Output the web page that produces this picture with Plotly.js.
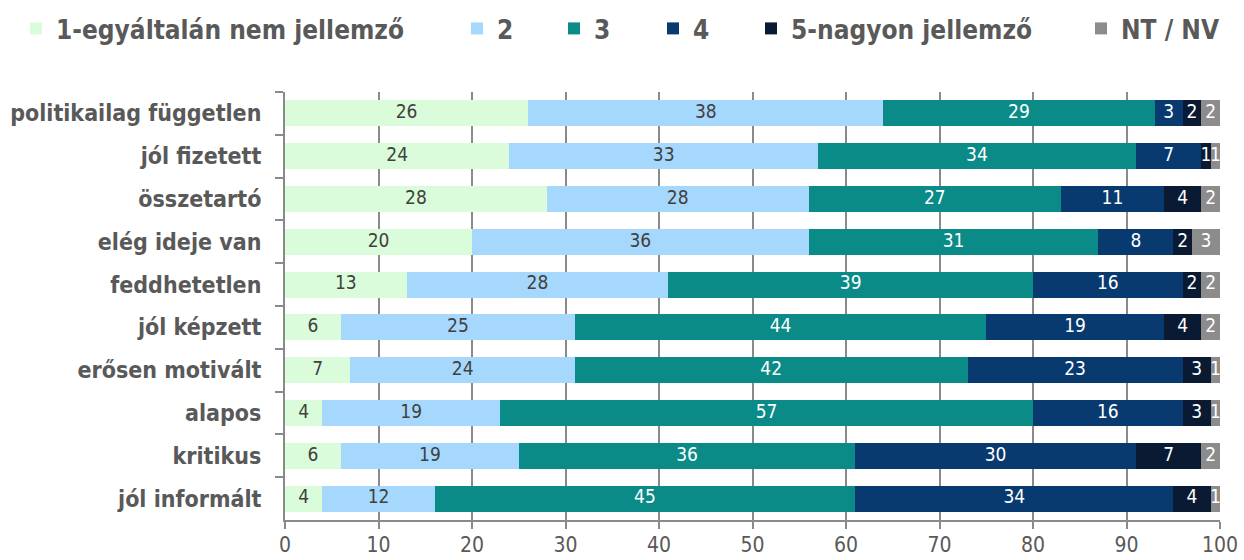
<!DOCTYPE html>
<html>
<head>
<meta charset="utf-8">
<script src="https://cdn.plot.ly/plotly-3.0.1.min.js"></script>
<style>html,body{margin:0;padding:0;background:#fff;}#chart{width:1244px;height:560px;}</style>
</head>
<body>
<div id="chart"></div>
<script>
const categories = ["politikailag független","jól fizetett","összetartó","elég ideje van","feddhetetlen","jól képzett","erősen motivált","alapos","kritikus","jól informált"];
const seriesNames = ["1-egyáltalán nem jellemző","2","3","4","5-nagyon jellemző","NT / NV"];
const s1 = [26,24,28,20,13,6,7,4,6,4];
const s2 = [38,33,28,36,28,25,24,19,19,12];
const s3 = [29,34,27,31,39,44,42,57,36,45];
const s4 = [3,7,11,8,16,19,23,16,30,34];
const s5 = [2,1,4,2,2,4,3,3,7,4];
const s6 = [2,1,2,3,2,2,1,1,2,1];
const xTicks = [0,10,20,30,40,50,60,70,80,90,100];

const series = [s1,s2,s3,s4,s5,s6];
const colors = ["#dafcda","#a6d8fd","#0a8b88","#083a70","#0a1a33","#8c8c8c"];
const textColors = ["#404040","#404040","#ffffff","#ffffff","#ffffff","#ffffff"];
const legendXpx = [16, 457, 554, 653, 751, 1081];
const W = 1244, H = 560;
const FONT = "DejaVu Sans Condensed, DejaVu Sans, sans-serif";

const traces = [];
const layout = {
  width: W, height: H,
  margin: {l: 285, r: 24, t: 92, b: 40},
  paper_bgcolor: "#fff", plot_bgcolor: "#fff",
  barmode: "stack",
  bargap: 0.39,
  showlegend: true,
  xaxis: {
    range: [0, 100], tickvals: xTicks, ticktext: xTicks.map(String),
    showgrid: true, gridcolor: "#8a8a8a", gridwidth: 2,
    showline: true, linecolor: "#8a8a8a", linewidth: 2,
    ticks: "outside", ticklen: 7, tickwidth: 2, tickcolor: "#8a8a8a",
    tickfont: {family: FONT, size: 21, color: "#595959"},
    ticklabelstandoff: -2,
    zeroline: false, fixedrange: true
  },
  yaxis: {
    type: "category", autorange: "reversed",
    categoryorder: "array", categoryarray: categories,
    showline: true, linecolor: "#8a8a8a", linewidth: 2,
    ticks: "outside", ticklen: 8, tickwidth: 2, tickcolor: "#8a8a8a",
    tickson: "boundaries",
    tickfont: {family: FONT, size: 23, color: "#595959", weight: "bold"},
    ticklabelstandoff: 17,
    showgrid: false, zeroline: false, fixedrange: true
  }
};

series.forEach((vals, i) => {
  const legName = i === 0 ? "legend" : "legend" + (i + 1);
  traces.push({
    type: "bar", orientation: "h", name: seriesNames[i],
    x: vals, y: categories,
    marker: {color: colors[i], line: {width: 0}},
    hoverinfo: "skip",
    legend: legName
  });
  layout[legName] = {
    x: legendXpx[i] / W, y: 1 - 28.5 / H, xref: "container", yref: "container",
    xanchor: "left", yanchor: "middle",
    orientation: "h", bgcolor: "rgba(0,0,0,0)", borderwidth: 0,
    itemwidth: 30,
    font: {family: FONT, size: 26, color: "#595959", weight: "bold"}
  };
});

// value labels at segment centers (computed from the data arrays)
series.forEach((vals, i) => {
  const mids = vals.map((v, k) => {
    let base = 0;
    for (let j = 0; j < i; j++) base += series[j][k];
    return base + v / 2;
  });
  traces.push({
    type: "scatter", mode: "text", x: mids, y: categories,
    text: vals.map(String), textposition: "middle center",
    textfont: {family: FONT, size: 19, color: textColors[i]},
    showlegend: false, hoverinfo: "skip", cliponaxis: false
  });
});

Plotly.newPlot("chart", traces, layout, {displayModeBar: false, staticPlot: true});
</script>
</body>
</html>
